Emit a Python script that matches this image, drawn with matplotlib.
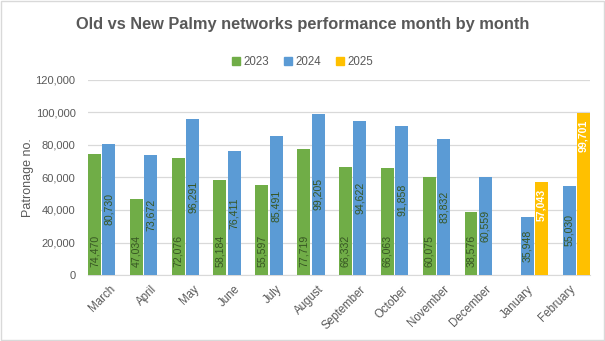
import matplotlib
matplotlib.use("Agg")
import matplotlib.pyplot as plt
import numpy as np
from matplotlib.patches import Rectangle

months = ["March", "April", "May", "June", "July", "August", "September",
          "October", "November", "December", "January", "February"]
y2023 = [74470, 47034, 72076, 58184, 55597, 77719, 66332, 66063, 60075, 38576, None, None]
y2024 = [80730, 73672, 96291, 76411, 85491, 99205, 94622, 91858, 83832, 60559, 35948, 55030]
y2025 = [None, None, None, None, None, None, None, None, None, None, 57043, 99701]
series_names = ["2023", "2024", "2025"]
yticks = [0, 20000, 40000, 60000, 80000, 100000, 120000]

colors = ["#70AD47", "#5B9BD5", "#FFC000"]
gray = "#595959"
lblcol = "#375623"
FONT = "Liberation Sans"
plt.rcParams['font.family'] = [FONT, 'DejaVu Sans']

fig = plt.figure(figsize=(6.05, 3.41), dpi=100)
fig.patches.append(Rectangle((0.001, 0.002), 0.997, 0.995, transform=fig.transFigure,
                             fill=False, edgecolor="#D9D9D9", linewidth=1.0))
ax = fig.add_axes([88/605, 1-275/341, (590-88)/605, (275-80)/341])

x = np.arange(len(months))
step = 0.345
width = 0.31
offsets = [-step, 0, step]
for si, data in enumerate([y2023, y2024, y2025]):
    for i, v in enumerate(data):
        if v is None:
            continue
        xc = x[i] + offsets[si]
        ax.bar(xc, v, width=width, color=colors[si], zorder=3)
        txt = f"{v:,}"
        if si == 0:
            ax.annotate(txt, (xc, 0), xytext=(0, 6), textcoords="offset points",
                        rotation=90, ha="center", va="bottom", fontsize=7.6, color=lblcol, zorder=4)
        elif si == 1:
            ax.text(xc, v/2, txt, rotation=90, ha="center", va="center",
                    fontsize=7.6, color=lblcol, zorder=4)
        else:
            ax.annotate(txt, (xc, v), xytext=(0, -5), textcoords="offset points",
                        rotation=90, ha="center", va="top", fontsize=7.6, color="white",
                        fontweight="bold", zorder=4)

ax.set_xlim(-0.5, len(months) - 0.5)
ax.set_ylim(0, 120000)
ax.set_yticks(yticks)
ax.set_yticklabels([f"{t:,}" for t in yticks], fontsize=8, color=gray)
ax.yaxis.grid(True, color="#D9D9D9", linewidth=0.9, zorder=0)
ax.tick_params(axis="y", length=0, pad=9)
ax.tick_params(axis="x", length=0, pad=6)
ax.set_xticks(x)
ax.set_xticklabels(months, rotation=45, ha="right", rotation_mode="anchor",
                   fontsize=8.3, color=gray)
for s in ["top", "right", "left"]:
    ax.spines[s].set_visible(False)
ax.spines["bottom"].set_color("#D9D9D9")
ax.set_ylabel("Patronage no.", fontsize=9, color=gray)
ax.yaxis.set_label_coords(-0.108, 0.5)

fig.text(0.5, 1-25/341, "Old vs New Palmy networks performance month by month",
         ha="center", va="center", fontsize=11.8, fontweight="bold", color=gray)

handles = [Rectangle((0, 0), 1, 1, color=c) for c in colors]
fig.legend(handles, series_names, loc="center", bbox_to_anchor=(0.5, 1-62/341),
           ncol=3, frameon=False, fontsize=8.3, labelcolor=gray,
           handlelength=0.7, handleheight=0.7, handletextpad=0.3, columnspacing=1.3)

fig.savefig("out.png", dpi=100)
